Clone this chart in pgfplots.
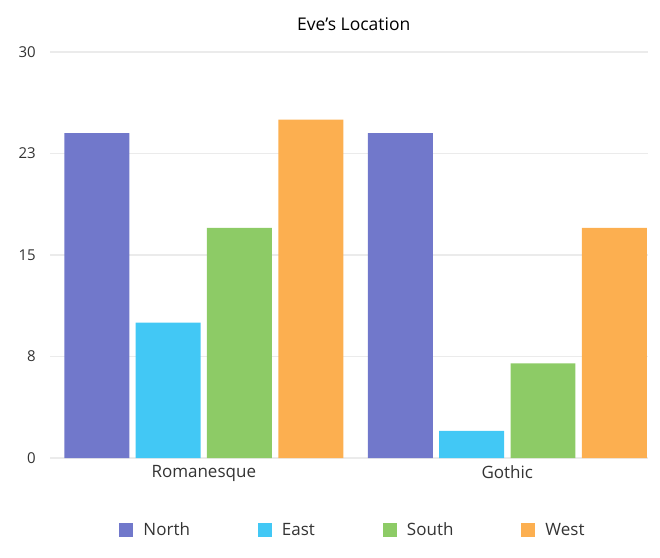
\documentclass[border=0pt]{standalone}
\usepackage{pgfplots}
\pgfplotsset{compat=1.18}
\usepackage{fontspec}
\setmainfont{Open Sans}

\definecolor{cNorth}{HTML}{7178CB}
\definecolor{cEast}{HTML}{42C8F5}
\definecolor{cSouth}{HTML}{8DCB66}
\definecolor{cWest}{HTML}{FCAF50}
\definecolor{cGrid}{HTML}{EBEBEB}

\pgfplotsset{sqlegend/.style={legend image code/.code={\fill[##1] (0bp,-7bp) rectangle (14bp,7bp);}}}

\begin{document}
\begin{tikzpicture}
  % page = 660 x 558, axis box from (50,52) to (648,458) in image pixels
  \path (-50bp,-100bp) rectangle (610bp,458bp);
  \begin{axis}[
    at={(0,0)}, anchor=south west,
    scale only axis, width=598bp, height=406bp,
    xmin=-0.5066, xmax=1.4634, ymin=0, ymax=30,
    ybar, bar width=0.214,
    xtick={0,1}, xticklabels={Romanesque,Gothic},
    ytick={0,7.5,15,22.5,30}, yticklabels={0,8,15,23,30},
    major tick length=0,
    axis line style={draw=none},
    ymajorgrids, grid style={draw=cGrid, line width=1.5bp},
    yticklabel style={font=\fontsize{15bp}{17bp}\selectfont, color=black!80, inner sep=0pt, xshift=-14bp},
    xticklabel style={font=\fontsize{17bp}{20bp}\selectfont, color=black!80, inner sep=0pt, yshift=-7bp},
    title={Eve’s Location},
    title style={at={(0.508,1.054)}, anchor=center, font=\fontsize{17.5bp}{20bp}\selectfont},
    legend columns=4,
    legend style={draw=none, fill=none, at={(0.505,-0.177)}, anchor=center,
      font=\fontsize{17bp}{20bp}\selectfont, text=black!80,
      nodes={inner sep=0pt},
      /tikz/every odd column/.append style={column sep=10bp},
      /tikz/every even column/.append style={column sep=68bp}},
  ]
    \addplot[sqlegend, fill=cNorth, draw=none, bar shift=-0.3525] coordinates {(0,24) (1,24)};
    \addplot[sqlegend, fill=cEast, draw=none, bar shift=-0.1175] coordinates {(0,10) (1,2)};
    \addplot[sqlegend, fill=cSouth, draw=none, bar shift=0.1175] coordinates {(0,17) (1,7)};
    \addplot[sqlegend, fill=cWest, draw=none, bar shift=0.3525] coordinates {(0,25) (1,17)};
    \legend{North,East,South,West}
  \end{axis}
\end{tikzpicture}
\end{document}
